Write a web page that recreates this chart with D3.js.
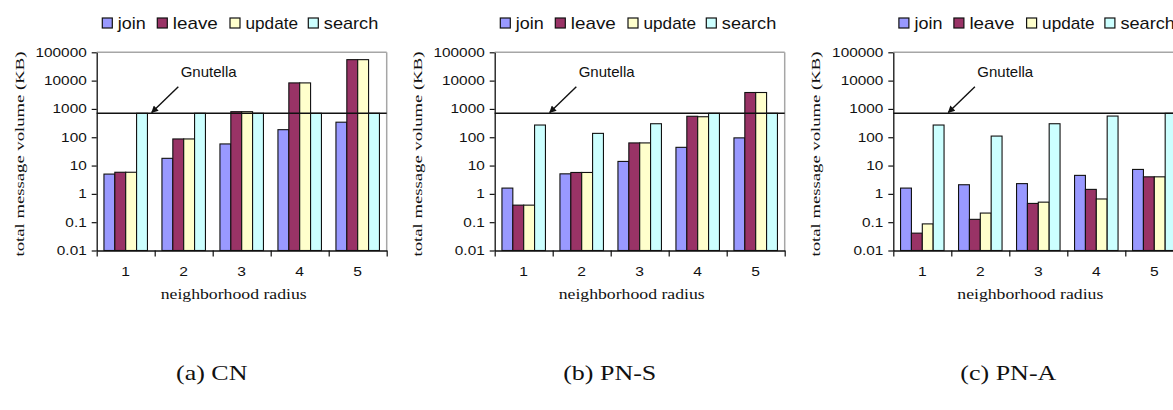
<!DOCTYPE html>
<html lang="en">
<head>
<meta charset="UTF-8">
<title>total message volume</title>
<style>
  body { margin: 0; background: #fff; }
  svg { display: block; }
  .sans { font-family: "Liberation Sans", Arial, sans-serif; fill: #111; }
  .serif { font-family: "Liberation Serif", "Times New Roman", serif; fill: #111; }
</style>
</head>
<body>
<script src="https://cdn.jsdelivr.net/npm/d3@7"></script>
<script>
// ---- data ----
var categories = ["1", "2", "3", "4", "5"];
var seriesNames = ["join", "leave", "update", "search"];
var seriesColors = ["#9999ff", "#993366", "#ffffcc", "#ccffff"];
var yTickValues = [0.01, 0.1, 1, 10, 100, 1000, 10000, 100000];
var yTickLabels = ["0.01", "0.1", "1", "10", "100", "1000", "10000", "100000"];
var gnutella = 700;
var panelTitles = ["(a) CN", "(b) PN-S", "(c) PN-A"];

var cnJoin   = [5, 18, 58, 185, 340];
var cnLeave  = [5.8, 87, 800, 8300, 55000];
var cnUpdate = [5.8, 87, 800, 8300, 55000];
var cnSearch = [700, 700, 700, 700, 700];

var pnsJoin   = [1.6, 5.1, 14, 44, 95];
var pnsLeave  = [0.4, 5.7, 63, 550, 3800];
var pnsUpdate = [0.4, 5.7, 63, 530, 3800];
var pnsSearch = [270, 137, 300, 700, 700];

var pnaJoin   = [1.6, 2.1, 2.3, 4.5, 7.3];
var pnaLeave  = [0.041, 0.126, 0.46, 1.44, 4.0];
var pnaUpdate = [0.087, 0.21, 0.51, 0.66, 4.0];
var pnaSearch = [270, 110, 300, 560, 700];

var panelValues = [
  [cnJoin, cnLeave, cnUpdate, cnSearch],
  [pnsJoin, pnsLeave, pnsUpdate, pnsSearch],
  [pnaJoin, pnaLeave, pnaUpdate, pnaSearch]
];

// ---- layout ----
var width = 1173, height = 410;
var panelX = [96.7, 494.7, 893.3];
var plotW = 290, plotTop = 52.3, plotBottom = 250.5;
var stretch = 1.28; // the figure text is widened horizontally

var svg = d3.select('body').append('svg').attr('width', width).attr('height', height);

svg.append('defs').append('marker')
  .attr('id', 'arrow').attr('viewBox', '0 0 10 10')
  .attr('refX', 9).attr('refY', 5)
  .attr('markerWidth', 9).attr('markerHeight', 7)
  .attr('markerUnits', 'userSpaceOnUse')
  .attr('orient', 'auto')
  .append('path').attr('d', 'M0,0L10,5L0,10z').attr('fill', '#111');

var y = d3.scaleLog().domain([0.01, 100000]).range([plotBottom, plotTop]);
var x0 = d3.scaleBand().domain(categories).range([0, plotW]).paddingInner(0.25).paddingOuter(0.125);
var x1 = d3.scaleBand().domain(seriesNames).range([0, x0.bandwidth()]);
var xEdge = d3.scaleLinear().domain([0, categories.length]).range([0, plotW]);

panelValues.forEach(function (values, p) {
  var g = svg.append('g').attr('transform', 'translate(' + panelX[p] + ',0)');

  // legend
  var leg = g.append('g').selectAll('g').data(seriesNames).enter().append('g')
    .attr('transform', function (d, i) { return 'translate(' + [5.6, 60.6, 133.3, 211.6][i] + ',18)'; });
  leg.append('rect').attr('width', 10).attr('height', 10)
    .attr('fill', function (d, i) { return seriesColors[i]; })
    .attr('stroke', '#111').attr('stroke-width', 1.2);
  leg.append('text').attr('class', 'sans').attr('x', 15.5).attr('y', 10.5)
    .style('font-size', '17px')
    .attr('textLength', function (d, i) { return [28, 45, 52.5, 54.5][i]; })
    .attr('lengthAdjust', 'spacingAndGlyphs')
    .text(function (d) { return d; });

  // plot frame (grey top and right)
  g.append('line').attr('x1', 0).attr('x2', plotW).attr('y1', plotTop).attr('y2', plotTop)
    .attr('stroke', '#a6a6a6').attr('stroke-width', 1.5);
  g.append('line').attr('x1', plotW).attr('x2', plotW).attr('y1', plotTop).attr('y2', plotBottom)
    .attr('stroke', '#a6a6a6').attr('stroke-width', 1.5);

  // bars
  var groups = g.append('g').selectAll('g').data(categories).enter().append('g')
    .attr('transform', function (c) { return 'translate(' + x0(c) + ',0)'; });
  groups.selectAll('rect').data(function (c, j) {
      return seriesNames.map(function (s, k) { return { s: s, k: k, v: values[k][j] }; });
    }).enter().append('rect')
    .attr('x', function (d) { return x1(d.s); })
    .attr('y', function (d) { return y(d.v); })
    .attr('width', x1.bandwidth())
    .attr('height', function (d) { return plotBottom - y(d.v); })
    .attr('fill', function (d) { return seriesColors[d.k]; })
    .attr('stroke', '#111').attr('stroke-width', 1.1);

  // Gnutella reference line
  g.append('line').attr('x1', 0).attr('x2', plotW)
    .attr('y1', y(gnutella)).attr('y2', y(gnutella))
    .attr('stroke', '#111').attr('stroke-width', 1.5);
  g.append('text').attr('class', 'sans').attr('x', 84).attr('y', 77.3)
    .style('font-size', '15px').text('Gnutella');
  g.append('line').attr('x1', 81.6).attr('y1', 86.7).attr('x2', 55).attr('y2', y(gnutella) - 0.8)
    .attr('stroke', '#111').attr('stroke-width', 1.4).attr('marker-end', 'url(#arrow)');

  // y axis
  var ya = g.append('g').call(d3.axisLeft(y).tickValues(yTickValues)
      .tickFormat(function (d, i) { return yTickLabels[i]; })
      .tickSize(5).tickSizeOuter(0));
  ya.select('.domain').attr('stroke', '#111').attr('stroke-width', 1.3);
  ya.selectAll('.tick line').attr('stroke', '#111').attr('stroke-width', 1.2);
  ya.selectAll('.tick text').attr('class', 'sans').attr('x', 0)
    .attr('transform', 'translate(-10,0) scale(' + stretch + ',1)')
    .style('font-size', '12px').style('font-family', '"Liberation Sans", Arial, sans-serif');

  // x axis: labels in band centres, ticks on category edges
  var xa = g.append('g').attr('transform', 'translate(0,' + plotBottom + ')')
    .call(d3.axisBottom(x0).tickSize(0).tickPadding(16));
  xa.select('.domain').attr('stroke', '#111').attr('stroke-width', 1.3);
  xa.selectAll('.tick text').attr('class', 'sans')
    .attr('transform', 'scale(1.2,1)')
    .style('font-size', '13px').style('font-family', '"Liberation Sans", Arial, sans-serif');
  var xe = g.append('g').attr('transform', 'translate(0,' + plotBottom + ')')
    .call(d3.axisBottom(xEdge).tickValues(d3.range(categories.length + 1)).tickFormat('').tickSize(6));
  xe.select('.domain').remove();
  xe.selectAll('.tick line').attr('stroke', '#111').attr('stroke-width', 1.2);

  // axis titles
  g.append('text').attr('class', 'serif')
    .attr('transform', 'translate(-73,154) rotate(-90)')
    .attr('text-anchor', 'middle')
    .style('font-size', '13.5px')
    .attr('textLength', 205).attr('lengthAdjust', 'spacingAndGlyphs')
    .text('total message volume (KB)');
  g.append('text').attr('class', 'serif')
    .attr('x', 137).attr('y', 299).attr('text-anchor', 'middle')
    .style('font-size', '14.5px')
    .attr('textLength', 146).attr('lengthAdjust', 'spacingAndGlyphs')
    .text('neighborhood radius');

  // caption
  g.append('text').attr('class', 'serif')
    .attr('transform', 'translate(115,380) scale(1.3,1)')
    .attr('text-anchor', 'middle')
    .style('font-size', '20px')
    .text(panelTitles[p]);
});
</script>
</body>
</html>
